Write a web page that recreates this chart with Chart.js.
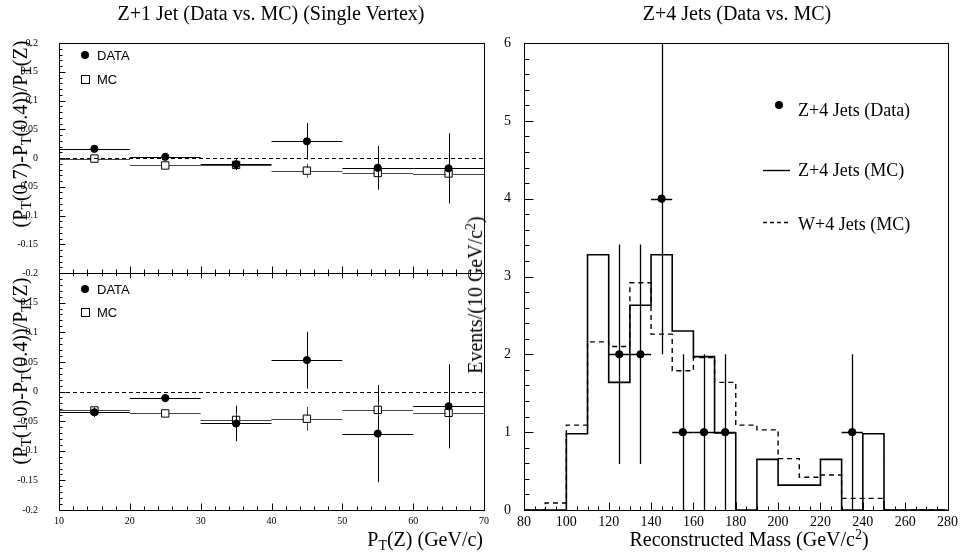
<!DOCTYPE html>
<html>
<head>
<meta charset="utf-8">
<script src="https://cdn.jsdelivr.net/npm/chart.js@4.4.1/dist/chart.umd.min.js"></script>
<style>
  html, body { margin: 0; padding: 0; background: #fff; }
  #page { position: relative; width: 962px; height: 554px; overflow: hidden; font-family: "Liberation Serif", "Times New Roman", serif; color: #000; }
  #page canvas { position: absolute; left: 0; top: 0; }
  .lbl { position: absolute; white-space: nowrap; line-height: 1; font-size: 20px; }
  .rot { transform: translate(-50%, -50%) rotate(-90deg); }
  sub { font-size: 70%; vertical-align: -0.3em; line-height: 0; }
  sup { font-size: 70%; vertical-align: 0.5em; line-height: 0; }
</style>
</head>
<body>
<div id="page">
  <canvas id="c1" width="962" height="554"></canvas>
  <canvas id="c2" width="962" height="554"></canvas>
  <canvas id="c3" width="962" height="554"></canvas>
  <div class="lbl" style="left:271px;top:3px;transform:translateX(-50%)">Z+1 Jet (Data vs. MC) (Single Vertex)</div>
  <div class="lbl" style="left:737px;top:3px;transform:translateX(-50%)">Z+4 Jets (Data vs. MC)</div>
  <div class="lbl" style="right:479px;top:529px">P<sub>T</sub>(Z) (GeV/c)</div>
  <div class="lbl" style="left:749px;top:529px;transform:translateX(-50%)">Reconstructed Mass (GeV/c<sup>2</sup>)</div>
  <div class="lbl rot" style="left:20px;top:134px">(P<sub>T</sub>(0.7)-P<sub>T</sub>(0.4))/P<sub>T</sub>(Z)</div>
  <div class="lbl rot" style="left:20px;top:371px">(P<sub>T</sub>(1.0)-P<sub>T</sub>(0.4))/P<sub>T</sub>(Z)</div>
  <div class="lbl rot" style="left:475px;top:295px">Events/(10 GeV/c<sup>2</sup>)</div>
</div>
<script>
// Z+1 jet: pT(Z) bins (centre and half width)
const ptBins = [15, 25, 35, 45, 55, 65]
const ptHalf = [5, 5, 5, 5, 5, 5]

// (PT(0.7)-PT(0.4))/PT(Z)
const r07Data = [0.016, 0.002, -0.011, 0.029, -0.017, -0.018]
const r07DataErr = [0.005, 0.004, 0.010, 0.032, 0.038, 0.061]
const r07MC = [-0.001, -0.013, -0.012, -0.022, -0.026, -0.027]
const r07MCErr = [0.004, 0.004, 0.004, 0.012, 0.008, 0.008]

// (PT(1.0)-PT(0.4))/PT(Z)
const r10Data = [-0.035, -0.011, -0.054, 0.053, -0.071, -0.025]
const r10DataErr = [0.008, 0.007, 0.030, 0.048, 0.082, 0.071]
const r10MC = [-0.032, -0.037, -0.048, -0.046, -0.031, -0.036]
const r10MCErr = [0.005, 0.004, 0.012, 0.020, 0.010, 0.010]

// Z+4 jets: reconstructed mass histograms (lower bin edges, 10 GeV bins)
const massBins = [80, 90, 100, 110, 120, 130, 140, 150, 160, 170, 180, 190, 200, 210, 220, 230, 240, 250, 260, 270]
const binWidth = 10
const zjetsMC = [0, 0, 0.98, 3.28, 1.64, 2.63, 3.28, 2.30, 1.97, 0.99, 0, 0.65, 0.32, 0.32, 0.65, 0, 0.98, 0, 0, 0]
const wjetsMC = [0, 0.09, 1.09, 2.16, 2.10, 2.92, 2.26, 1.79, 1.96, 1.64, 1.09, 1.03, 0.66, 0.42, 0.45, 0.15, 0.15, 0, 0, 0]

// Z+4 jets data
const dataMass = [125, 135, 145, 155, 165, 175, 235]
const dataCounts = [2, 2, 4, 1, 1, 1, 1]
const dataCountErr = [1.41, 1.41, 2.0, 1.0, 1.0, 1.0, 1.0]
const dataMassHalf = [5, 5, 5, 5, 5, 5, 5]

Chart.defaults.font.family = '"Liberation Serif", "Times New Roman", serif'
Chart.defaults.color = '#000'

function crisp(v){ return Math.round(v) + 0.5 }

// error bars, drawn under the markers
const errorBars = {
    id: 'errorBars',
    beforeDatasetsDraw(chart, args, o){
        const {ctx, chartArea: a, scales: {x, y}} = chart
        ctx.save()
        ctx.beginPath()
        ctx.rect(a.left, a.top, a.width, a.height)
        ctx.clip()
        if(o.zeroLine){
            const z = crisp(y.getPixelForValue(0))
            ctx.strokeStyle = '#000'
            ctx.lineWidth = 1
            ctx.setLineDash([4, 3])
            ctx.beginPath()
            ctx.moveTo(a.left, z)
            ctx.lineTo(a.right, z)
            ctx.stroke()
            ctx.setLineDash([])
        }
        chart.data.datasets.forEach(ds => {
            if(!ds.yErr) return
            ctx.strokeStyle = ds.barColor || '#000'
            ctx.lineWidth = ds.barWidth || 1
            const gap = ds.barGap || 0
            ds.data.forEach((p, j) => {
                const px = crisp(x.getPixelForValue(p.x))
                const py = crisp(y.getPixelForValue(p.y))
                const x0 = x.getPixelForValue(p.x - ds.xErr[j])
                const x1 = x.getPixelForValue(p.x + ds.xErr[j])
                const y0 = y.getPixelForValue(p.y + ds.yErr[j])
                const y1 = y.getPixelForValue(p.y - ds.yErr[j])
                ctx.beginPath()
                ctx.moveTo(x0, py); ctx.lineTo(px - gap, py)
                ctx.moveTo(px + gap, py); ctx.lineTo(x1, py)
                if(y0 < py - gap){ ctx.moveTo(px, y0); ctx.lineTo(px, py - gap) }
                if(y1 > py + gap){ ctx.moveTo(px, py + gap); ctx.lineTo(px, y1) }
                ctx.stroke()
            })
        })
        ctx.restore()
    }
}

// box frame with inward ticks
const frameTicks = {
    id: 'frameTicks',
    afterDatasetsDraw(chart, args, o){
        const {ctx, chartArea: a, scales: {x, y}} = chart
        const L = crisp(a.left), R = crisp(a.right), T = crisp(a.top), B = crisp(a.bottom)
        ctx.save()
        ctx.strokeStyle = '#000'
        ctx.lineWidth = 1
        ctx.strokeRect(L, T, R - L, B - T)
        ctx.beginPath()
        const nx = Math.round((x.max - x.min) / o.xMinor)
        for(let i = 0; i <= nx; i++){
            const px = crisp(x.getPixelForValue(x.min + i * o.xMinor))
            const len = i % o.xPer === 0 ? o.xMajorLen : o.xMinorLen
            ctx.moveTo(px, B); ctx.lineTo(px, B - len)
            if(o.topTicks){ ctx.moveTo(px, T); ctx.lineTo(px, T + len * 0.7) }
        }
        const ny = Math.round((y.max - y.min) / o.yMinor)
        for(let i = 0; i <= ny; i++){
            const py = crisp(y.getPixelForValue(y.min + i * o.yMinor))
            const len = i % o.yPer === 0 ? o.yMajorLen : o.yMinorLen
            ctx.moveTo(L, py); ctx.lineTo(L + len, py)
        }
        ctx.stroke()
        ctx.restore()
    }
}

// ROOT style legend inside the frame
const boxLegend = {
    id: 'boxLegend',
    afterDraw(chart, args, o){
        if(!o.items) return
        const {ctx, chartArea: a} = chart
        ctx.save()
        ctx.font = o.font
        ctx.fillStyle = '#000'
        ctx.strokeStyle = '#000'
        o.items.forEach(it => {
            const mx = a.left + o.markX, my = a.top + it.y
            ctx.lineWidth = 1
            if(it.kind === 'dot'){
                ctx.beginPath(); ctx.arc(mx, my, o.r, 0, Math.PI * 2); ctx.fill()
            } else if(it.kind === 'square'){
                ctx.strokeRect(crisp(mx - o.r), crisp(my - o.r), Math.round(o.r * 2), Math.round(o.r * 2))
            } else {
                ctx.lineWidth = 1.4
                if(it.kind === 'dash') ctx.setLineDash([4, 3])
                ctx.beginPath()
                ctx.moveTo(a.left + o.lineX0, crisp(my)); ctx.lineTo(a.left + o.lineX1, crisp(my))
                ctx.stroke()
                ctx.setLineDash([])
            }
            ctx.fillText(it.label, a.left + o.textX, a.top + it.ty + o.capHalf)
        })
        ctx.restore()
    }
}

function tickText(v){ return String(Math.round(v * 100) / 100) }

function ratioChart(id, dataY, dataErr, mcY, mcErr, top, bottom, withX, legendY){
    const pad = {left: 14, right: 962 - 484, top: top, bottom: withX ? 554 - bottom - 20 : 554 - bottom}
    return new Chart(document.getElementById(id), {
        type: 'scatter',
        data: {
            datasets: [
                {label: 'DATA', data: ptBins.map((x, i) => ({x: x, y: dataY[i]})), xErr: ptHalf, yErr: dataErr,
                 barColor: '#000', pointStyle: 'circle', pointRadius: 3.6, backgroundColor: '#000', borderColor: '#000', borderWidth: 1, order: 1},
                {label: 'MC', data: ptBins.map((x, i) => ({x: x, y: mcY[i]})), xErr: ptHalf, yErr: mcErr,
                 barColor: '#444', barGap: 3.7, pointStyle: 'rect', pointRadius: 5.2, backgroundColor: 'rgba(0,0,0,0)', borderColor: '#000', borderWidth: 1, order: 0}
            ]
        },
        options: {
            responsive: false, animation: false, events: [],
            layout: {padding: pad},
            scales: {
                x: {type: 'linear', min: 10, max: 70,
                    ticks: {display: withX, stepSize: 10, padding: 5, font: {size: 10}, maxRotation: 0},
                    grid: {display: false, drawTicks: false}, border: {display: false},
                    afterFit: s => { s.height = withX ? 20 : 0 }},
                y: {type: 'linear', min: -0.2, max: 0.2,
                    ticks: {stepSize: 0.05, padding: 21, font: {size: 10},
                            callback: v => (!withX || v < 0.19) ? tickText(v) : ''},
                    grid: {display: false, drawTicks: false}, border: {display: false},
                    afterFit: s => { s.width = 45 }}
            },
            plugins: {
                legend: {display: false}, tooltip: {enabled: false},
                errorBars: {zeroLine: true},
                frameTicks: {xMinor: 2, xPer: 5, xMajorLen: 7, xMinorLen: 4, yMinor: 0.01, yPer: 5, yMajorLen: 6, yMinorLen: 3, topTicks: withX},
                boxLegend: {font: '13px "Liberation Sans", Arial, sans-serif', markX: 26, textX: 38, r: 4, capHalf: 4.7,
                    items: [{kind: 'dot', y: legendY[0], ty: legendY[0], label: 'DATA'},
                            {kind: 'square', y: legendY[1], ty: legendY[1], label: 'MC'}]}
            }
        },
        plugins: [errorBars, frameTicks, boxLegend]
    })
}

ratioChart('c1', r07Data, r07DataErr, r07MC, r07MCErr, 43, 273, false, [12, 36])
ratioChart('c2', r10Data, r10DataErr, r10MC, r10MCErr, 273, 510, true, [16, 39])

// step histograms: one point per lower edge plus the closing edge
const zjStep = massBins.map((x, i) => ({x: x, y: zjetsMC[i]})).concat([{x: massBins[massBins.length - 1] + binWidth, y: 0}])
const wjStep = massBins.map((x, i) => ({x: x, y: wjetsMC[i]})).concat([{x: massBins[massBins.length - 1] + binWidth, y: 0}])

new Chart(document.getElementById('c3'), {
    type: 'scatter',
    data: {
        datasets: [
            {label: 'Z+4 Jets (Data)', data: dataMass.map((x, i) => ({x: x, y: dataCounts[i]})), xErr: dataMassHalf, yErr: dataCountErr,
             barWidth: 1.3, pointStyle: 'circle', pointRadius: 3.7, backgroundColor: '#000', borderColor: '#000', borderWidth: 1, order: 0},
            {type: 'line', label: 'Z+4 Jets (MC)', data: zjStep, stepped: 'before', borderColor: '#000', borderWidth: 1.6,
             pointRadius: 0, fill: false, order: 1},
            {type: 'line', label: 'W+4 Jets (MC)', data: wjStep, stepped: 'before', borderColor: '#000', borderWidth: 1.4,
             borderDash: [5, 4], pointRadius: 0, fill: false, order: 2}
        ]
    },
    options: {
        responsive: false, animation: false, events: [],
        layout: {padding: {left: 484, right: 13, top: 43, bottom: 20}},
        scales: {
            x: {type: 'linear', min: 80, max: 280,
                ticks: {stepSize: 20, padding: 4, font: {size: 14}, maxRotation: 0},
                grid: {display: false, drawTicks: false}, border: {display: false},
                afterFit: s => { s.height = 24 }},
            y: {type: 'linear', min: 0, max: 6,
                ticks: {stepSize: 1, padding: 13, font: {size: 14}},
                grid: {display: false, drawTicks: false}, border: {display: false},
                afterFit: s => { s.width = 40 }}
        },
        plugins: {
            legend: {display: false}, tooltip: {enabled: false},
            errorBars: {zeroLine: false},
            frameTicks: {xMinor: 5, xPer: 4, xMajorLen: 8, xMinorLen: 4, yMinor: 0.2, yPer: 5, yMajorLen: 9, yMinorLen: 5, topTicks: false},
            boxLegend: {font: '18px "Liberation Serif", "Times New Roman", serif', markX: 255, textX: 274, r: 4, capHalf: 6,
                lineX0: 239, lineX1: 266,
                items: [{kind: 'dot', y: 62, ty: 67, label: 'Z+4 Jets (Data)'},
                        {kind: 'line', y: 127, ty: 127, label: 'Z+4 Jets (MC)'},
                        {kind: 'dash', y: 179, ty: 180.5, label: 'W+4 Jets (MC)'}]}
        }
    },
    plugins: [errorBars, frameTicks, boxLegend]
})
</script>
</body>
</html>
